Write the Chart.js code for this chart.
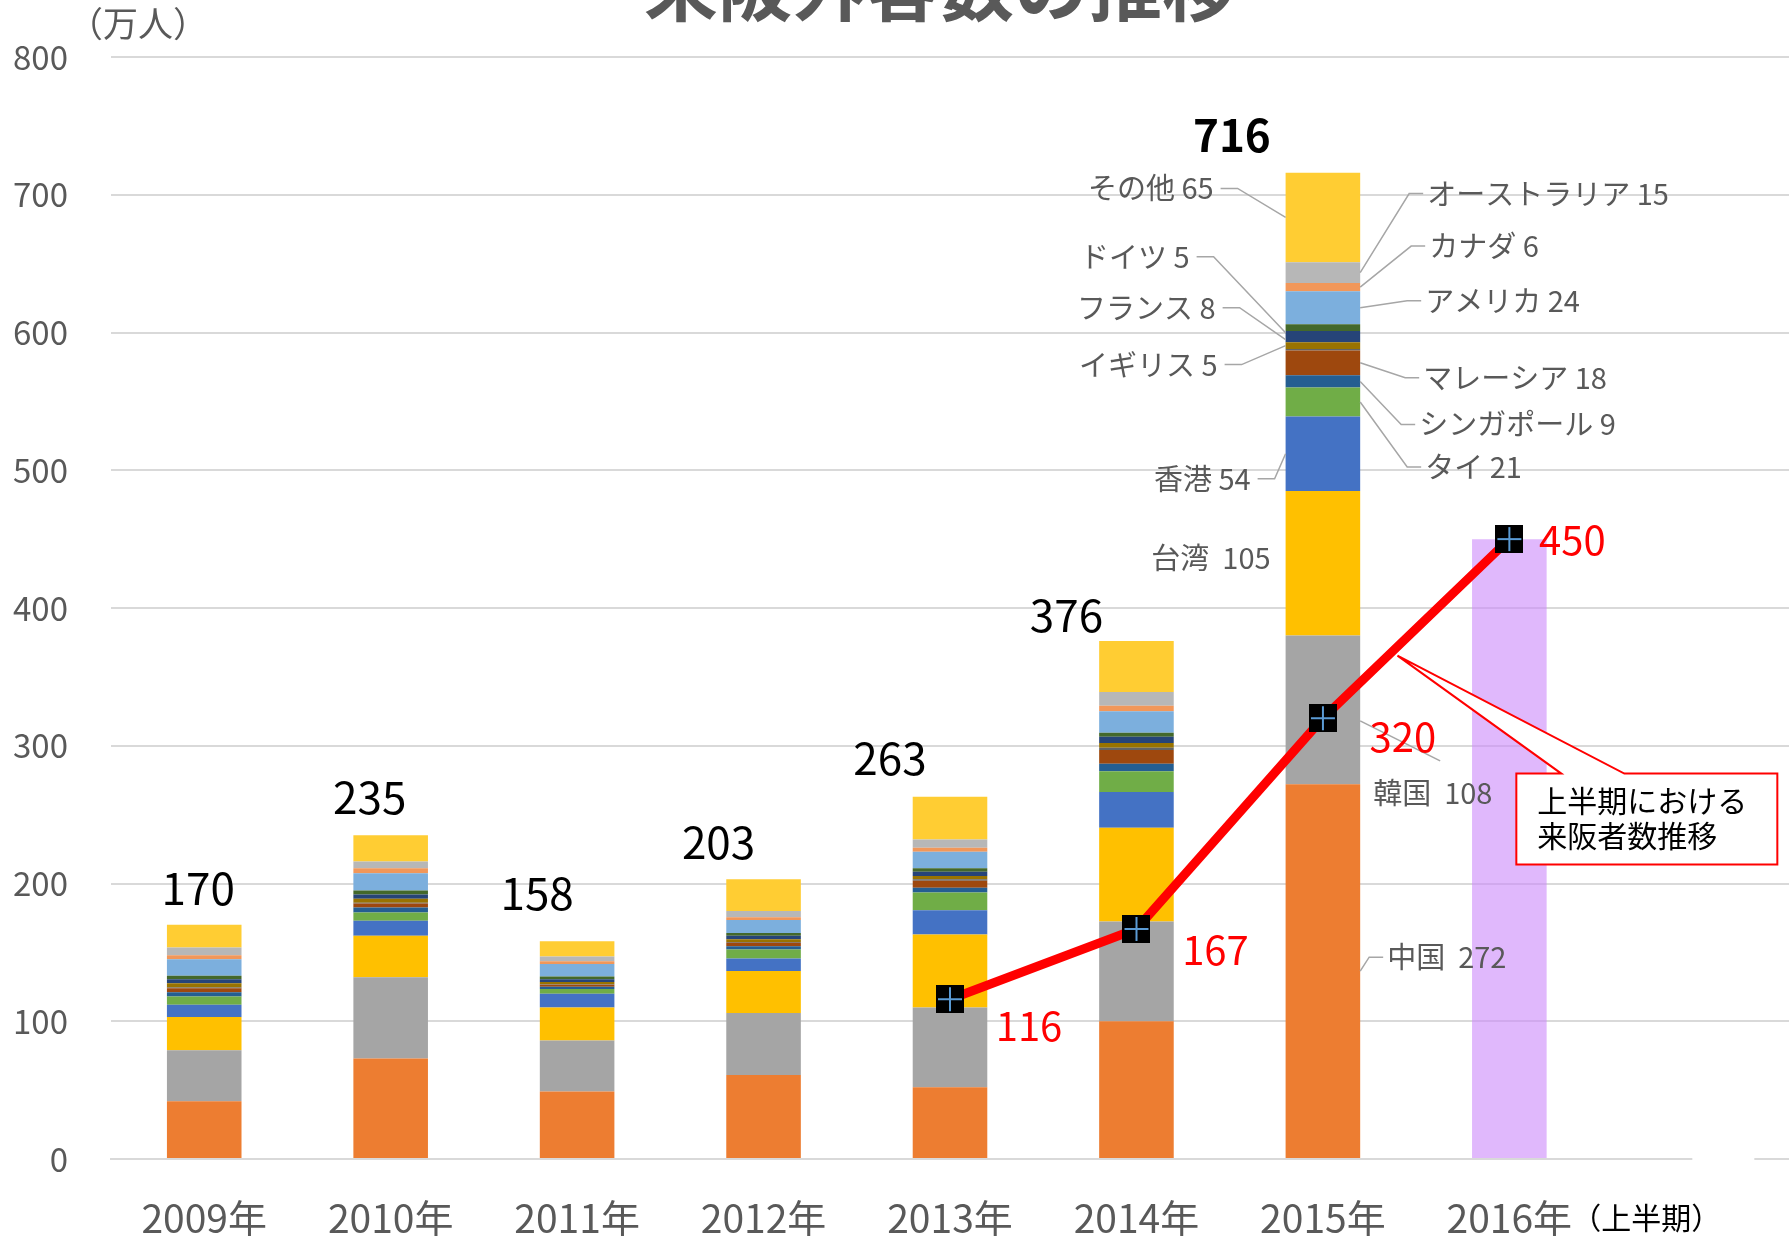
<!DOCTYPE html>
<html lang="ja">
<head>
<meta charset="utf-8">
<script src="https://cdn.jsdelivr.net/npm/chart.js@4.4.1/dist/chart.umd.min.js"></script>
<style>
  html, body { margin: 0; padding: 0; background: #fff; overflow: hidden; }
  #wrap { width: 1789px; height: 1236px; position: relative; }
</style>
</head>
<body>
<div id="wrap"><canvas id="chart"></canvas></div>
<script>
// カテゴリ（最後の空欄は右側の余白用）
const years = ["2009年", "2010年", "2011年", "2012年", "2013年", "2014年", "2015年", "2016年", ""];

// 国・地域別 来阪外客数（万人）
const china     = [42, 73, 49, 61, 52, 100, 272, null, null];
const korea     = [37, 59, 37, 45, 58, 72.5, 108, null, null];
const taiwan    = [24, 30, 24, 30.5, 53, 68, 105, null, null];
const hongkong  = [9, 11, 10, 9, 17.5, 26, 54, null, null];
const thai      = [6, 6, 3.5, 6.5, 13, 15, 21, null, null];
const singapore = [3, 3.5, 1.5, 2.5, 3.5, 5.5, 9, null, null];
const malaysia  = [3, 3, 1.5, 2.5, 5, 10, 18, null, null];
const otherAsia = [0.5, 0.5, 0.3, 0.5, 1, 1.5, 1, null, null];
const uk        = [3, 3, 1.7, 2, 2.5, 3.5, 5, null, null];
const france    = [3, 3, 2, 2.5, 3, 4.5, 8, null, null];
const germany   = [2.5, 3, 2, 2, 2.5, 3, 5, null, null];
const america   = [12, 12.5, 9, 9.5, 12, 15.5, 24, null, null];
const canada    = [3, 3.5, 2, 2, 3, 4, 6, null, null];
const australia = [5.5, 5, 3.5, 4.5, 6, 10, 15, null, null];
const others    = [16.5, 19, 11, 23, 31, 37, 65, null, null];

// 年間合計（ラベル）
const totals = [170, 235, 158, 203, 263, 376, 716];

// 上半期の来阪者数
const halfYear = [null, null, null, null, 116, 167, 320, 450, null];
const half2016 = [null, null, null, null, null, null, null, 450, null];

const FONT = "'Noto Sans CJK JP', 'Noto Sans', sans-serif";
const GRAY_TEXT = "#595959";

const series = [
  { name: "中国", data: china, color: "#ED7D31" },
  { name: "韓国", data: korea, color: "#A5A5A5" },
  { name: "台湾", data: taiwan, color: "#FFC000" },
  { name: "香港", data: hongkong, color: "#4472C4" },
  { name: "タイ", data: thai, color: "#70AD47" },
  { name: "シンガポール", data: singapore, color: "#255E91" },
  { name: "マレーシア", data: malaysia, color: "#9E480E" },
  { name: "その他アジア", data: otherAsia, color: "#636363" },
  { name: "イギリス", data: uk, color: "#997300" },
  { name: "フランス", data: france, color: "#264478" },
  { name: "ドイツ", data: germany, color: "#43682B" },
  { name: "アメリカ", data: america, color: "#7CAFDD" },
  { name: "カナダ", data: canada, color: "#F1975A" },
  { name: "オーストラリア", data: australia, color: "#B7B7B7" },
  { name: "その他", data: others, color: "#FFCD33" }
];

// 2015年の内訳ラベル: side, 棒からの距離, 縦ずれ, 引出線の接点ずれ
const segLabels = [
  { i: 14, side: "L", gap: 72, dy: -29, touch: 0 },
  { i: 10, side: "L", gap: 96, dy: -71, touch: 5 },
  { i: 9,  side: "L", gap: 70, dy: -29, touch: 3 },
  { i: 8,  side: "L", gap: 68, dy: 19, touch: 0 },
  { i: 3,  side: "L", gap: 35, dy: 25, touch: 0 },
  { i: 2,  side: "L", gap: 15, dy: -5, noLine: true, wide: true },
  { i: 13, side: "R", gap: 67, dy: -79, touch: 0 },
  { i: 12, side: "R", gap: 69, dy: -41, touch: 0 },
  { i: 11, side: "R", gap: 65, dy: -7, touch: 0 },
  { i: 6,  side: "R", gap: 63, dy: 15, touch: 0 },
  { i: 5,  side: "R", gap: 59, dy: 43, touch: 0 },
  { i: 4,  side: "R", gap: 65, dy: 65, touch: 0 },
  { i: 1,  side: "R", gap: 13, dy: 83, korea: true, wide: true },
  { i: 0,  side: "R", gap: 27, dy: -14, touch: 0, wide: true }
];

const totalOffsets = [[-6, -37], [-21, -38], [-40, -48], [-45, -37], [-60, -38], [-70, -26], [-91, -37]];
const lineLabelOffsets = { 4: [79, 27], 5: [79, 21], 6: [80, 19], 7: [63, 1] };

// マーカー（黒い四角に青い十字）
const markerImg = (function () {
  const s = 28;
  const c = document.createElement("canvas");
  c.width = s; c.height = s;
  const g = c.getContext("2d");
  g.fillStyle = "#000";
  g.fillRect(0, 0, s, s);
  g.strokeStyle = "#5B9BD5";
  g.lineWidth = 2;
  g.beginPath();
  g.moveTo(s / 2, 2); g.lineTo(s / 2, s - 2);
  g.moveTo(2, s / 2); g.lineTo(s - 2, s / 2);
  g.stroke();
  return c;
})();

const datasets = series.map(s => ({
  type: "bar",
  label: s.name,
  data: s.data,
  backgroundColor: s.color,
  stack: "visitors",
  order: 2,
  barPercentage: 0.4,
  categoryPercentage: 1
}));
datasets.push({
  type: "bar",
  label: "2016年上半期",
  data: half2016,
  backgroundColor: "rgba(204,136,250,0.6)",
  stack: "visitors",
  order: 2,
  barPercentage: 0.4,
  categoryPercentage: 1
});
datasets.push({
  type: "line",
  label: "上半期における来阪者数推移",
  data: halfYear,
  borderColor: "#FF0000",
  borderWidth: 9,
  borderJoinStyle: "round",
  pointStyle: markerImg,
  pointRadius: 14,
  stack: "line",
  order: 1
});

const annotations = {
  id: "annotations",
  afterDatasetsDraw(chart) {
    const ctx = chart.ctx;
    const x = chart.scales.x, y = chart.scales.y;
    const area = chart.chartArea;
    ctx.save();

    // 年間合計
    ctx.fillStyle = "#000";
    ctx.textAlign = "center";
    ctx.textBaseline = "middle";
    totals.forEach((t, i) => {
      ctx.font = (i === 6 ? "bold " : "") + "44px " + FONT;
      const px = x.getPixelForValue(i) + totalOffsets[i][0];
      const py = y.getPixelForValue(t) + totalOffsets[i][1];
      ctx.fillText(String(t), px, py);
    });

    // 2015年の内訳ラベル
    ctx.font = "29px " + FONT;
    ctx.strokeStyle = "#A6A6A6";
    ctx.lineWidth = 1.5;
    segLabels.forEach(l => {
      const el = chart.getDatasetMeta(l.i).data[6];
      const left = el.x - el.width / 2, right = el.x + el.width / 2;
      const cy = (el.y + el.base) / 2;
      const ty = cy + l.dy;
      const text = series[l.i].name + (l.wide ? "  " : " ") + series[l.i].data[6];
      ctx.fillStyle = GRAY_TEXT;
      ctx.textBaseline = "middle";
      if (l.side === "L") {
        const tr = left - l.gap;
        ctx.textAlign = "right";
        ctx.fillText(text, tr, ty);
        if (!l.noLine) {
          ctx.beginPath();
          ctx.moveTo(tr + 7, ty);
          ctx.lineTo(Math.min(tr + 24, left - 4), ty);
          ctx.lineTo(left, cy + l.touch);
          ctx.stroke();
        }
      } else {
        const tl = right + l.gap;
        ctx.textAlign = "left";
        ctx.fillText(text, tl, ty);
        ctx.beginPath();
        if (l.korea) {
          ctx.moveTo(right, cy + 11);
          ctx.lineTo(right + 80, cy + 51);
        } else {
          ctx.moveTo(right, cy + l.touch);
          ctx.lineTo(tl - 18, ty);
          ctx.lineTo(tl - 4, ty);
        }
        ctx.stroke();
      }
    });

    // 上半期の値ラベル
    const lineMeta = chart.getDatasetMeta(datasets.length - 1);
    ctx.font = "40px " + FONT;
    ctx.fillStyle = "#FF0000";
    ctx.textAlign = "center";
    ctx.textBaseline = "middle";
    Object.keys(lineLabelOffsets).forEach(k => {
      const p = lineMeta.data[k];
      const o = lineLabelOffsets[k];
      ctx.fillText(String(halfYear[k]), p.x + o[0], p.y + o[1]);
    });

    // 吹き出し
    const p1 = lineMeta.data[6], p2 = lineMeta.data[7];
    const tipX = p1.x + (p2.x - p1.x) * 0.4;
    const tipY = p1.y + (p2.y - p1.y) * 0.4 + 9;
    const bl = p2.x + 7, bt = tipY + 118, br = bl + 261, bb = bt + 91;
    ctx.beginPath();
    ctx.moveTo(bl, bt);
    ctx.lineTo(bl + 45, bt);
    ctx.lineTo(tipX, tipY);
    ctx.lineTo(bl + 108, bt);
    ctx.lineTo(br, bt);
    ctx.lineTo(br, bb);
    ctx.lineTo(bl, bb);
    ctx.closePath();
    ctx.fillStyle = "#fff";
    ctx.fill();
    ctx.strokeStyle = "#FF0000";
    ctx.lineWidth = 2;
    ctx.stroke();
    ctx.fillStyle = "#000";
    ctx.font = "30px " + FONT;
    ctx.textAlign = "left";
    ctx.fillText("上半期における", bl + 21, bt + 27);
    ctx.fillText("来阪者数推移", bl + 21, bt + 62);

    // 2016年ラベルの補足
    const x16 = x.getPixelForValue(7);
    ctx.fillStyle = "#fff";
    ctx.fillRect(x16 + 183, area.bottom - 3, 62, 6);
    ctx.fillStyle = "#000";
    ctx.font = "30px " + FONT;
    ctx.textAlign = "left";
    ctx.fillText("（上半期）", x16 + 62, area.bottom + 59);

    // タイトル（上端で切れている）と単位
    ctx.fillStyle = GRAY_TEXT;
    ctx.font = "bold 74px " + FONT;
    ctx.textAlign = "center";
    ctx.textBaseline = "alphabetic";
    ctx.fillText("来阪外客数の推移", 940, 15);
    ctx.font = "35px " + FONT;
    ctx.textBaseline = "middle";
    ctx.fillText("（万人）", 138, 24);

    ctx.restore();
  }
};

Chart.defaults.font.family = FONT;

new Chart(document.getElementById("chart"), {
  data: { labels: years, datasets: datasets },
  options: {
    responsive: true,
    maintainAspectRatio: false,
    animation: false,
    layout: { autoPadding: false, padding: { top: 57, right: 0, bottom: 0, left: 0 } },
    plugins: {
      legend: { display: false },
      tooltip: { enabled: false },
      title: { display: false }
    },
    scales: {
      x: {
        stacked: true,
        offset: true,
        afterFit(scale) {
          scale.height = 77;
          scale.paddingLeft = 0;
          scale.paddingRight = 0;
        },
        grid: { display: false, drawTicks: false },
        border: { display: true, color: "#D9D9D9", width: 2 },
        ticks: {
          color: GRAY_TEXT,
          padding: 40,
          maxRotation: 0,
          autoSkip: false,
          font: { size: 39, lineHeight: 1 }
        }
      },
      y: {
        stacked: true,
        min: 0,
        max: 800,
        afterFit(scale) {
          scale.width = 111;
          scale.paddingTop = 0;
          scale.paddingBottom = 0;
        },
        grid: { color: "#D9D9D9", lineWidth: 2, drawTicks: false },
        border: { display: false },
        ticks: {
          stepSize: 100,
          color: GRAY_TEXT,
          padding: 43,
          font: { size: 33 }
        }
      }
    }
  },
  plugins: [annotations]
});
</script>
</body>
</html>
